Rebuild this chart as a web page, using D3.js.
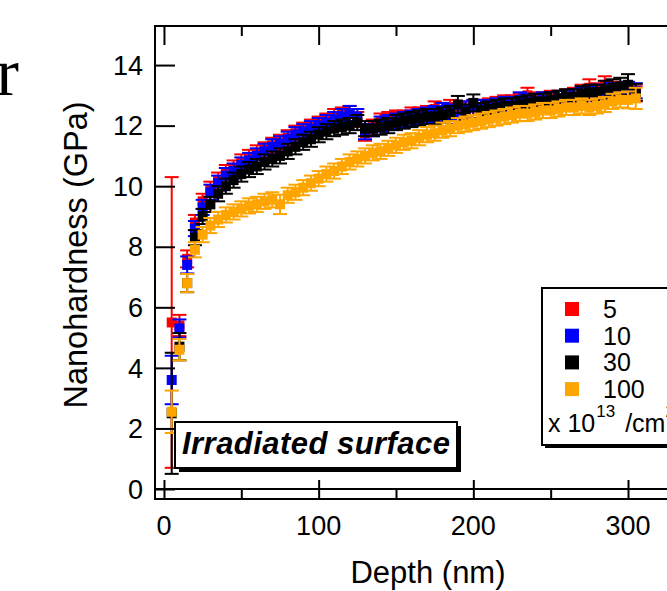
<!DOCTYPE html>
<html><head><meta charset="utf-8">
<script src="https://cdn.jsdelivr.net/npm/d3@7/dist/d3.min.js"></script>
<style>html,body{margin:0;padding:0;background:#fff;overflow:hidden}</style>
</head><body>
<svg id="c" width="667" height="591"></svg>
<script>
const depth = [5,10,15,20,25,30,35,40,45,50,55,60,65,70,75,80,85,90,95,100,105,110,115,120,125,130,135,140,145,150,155,160,165,170,175,180,185,190,195,200,205,210,215,220,225,230,235,240,245,250,255,260,265,270,275,280,285,290,295,300,305];

const red = [5.5,5.4,7.6,8.8,9.5,9.9,10.2,10.45,10.6,10.8,10.95,11.1,11.2,11.35,11.45,11.6,11.75,11.85,11.95,12.05,12.15,12.3,12.35,12.4,12.2,11.75,11.95,12.15,12.2,12.25,12.25,12.35,12.35,12.4,12.55,12.5,12.6,12.5,12.55,12.6,12.6,12.65,12.7,12.75,12.75,12.8,13.0,12.85,12.85,12.9,12.9,12.95,13.0,13.1,13.25,13.15,13.35,13.2,13.15,13.1,13.05];
const redErr = [4.8,0.35,0.28,0.25,0.25,0.25,0.25,0.25,0.25,0.25,0.25,0.25,0.25,0.25,0.25,0.25,0.25,0.25,0.25,0.25,0.25,0.25,0.25,0.25,0.25,0.25,0.25,0.25,0.25,0.25,0.25,0.25,0.25,0.25,0.25,0.25,0.25,0.25,0.25,0.25,0.25,0.25,0.25,0.25,0.25,0.25,0.25,0.25,0.25,0.25,0.25,0.25,0.25,0.25,0.28,0.25,0.28,0.25,0.25,0.25,0.25];

const blue = [3.6,5.3,7.4,8.6,9.3,9.8,10.1,10.35,10.5,10.7,10.85,11.0,11.15,11.3,11.4,11.55,11.7,11.8,11.9,12.0,12.1,12.2,12.3,12.4,12.3,11.8,11.9,12.05,12.1,12.15,12.2,12.25,12.3,12.35,12.4,12.5,12.45,12.3,12.55,12.6,12.6,12.6,12.65,12.7,12.7,12.85,12.8,12.8,12.85,12.85,12.9,12.9,12.95,13.0,13.05,13.1,13.1,13.15,13.15,13.2,13.15];
const blueErr = [0.8,0.3,0.28,0.25,0.25,0.25,0.25,0.25,0.25,0.25,0.25,0.25,0.25,0.25,0.25,0.25,0.25,0.25,0.25,0.25,0.25,0.25,0.25,0.25,0.25,0.25,0.25,0.25,0.25,0.25,0.25,0.25,0.25,0.25,0.25,0.25,0.25,0.25,0.25,0.25,0.25,0.25,0.25,0.25,0.25,0.25,0.25,0.25,0.25,0.25,0.25,0.25,0.25,0.25,0.25,0.25,0.25,0.25,0.25,0.25,0.25];

const black = [2.5,4.7,6.8,8.3,9.0,9.4,9.75,10.0,10.2,10.4,10.55,10.65,10.8,10.9,11.0,11.15,11.3,11.45,11.55,11.7,11.8,11.9,11.95,12.0,12.1,11.9,11.9,11.95,12.0,12.1,12.15,12.2,12.25,12.3,12.3,12.35,12.4,12.7,12.45,12.75,12.5,12.55,12.6,12.65,12.65,12.7,12.75,12.8,12.8,12.85,12.9,12.95,12.95,13.05,13.1,13.1,13.2,13.25,13.3,13.35,13.1];
const blackErr = [2.0,0.45,0.3,0.25,0.25,0.25,0.25,0.25,0.25,0.25,0.25,0.25,0.25,0.25,0.25,0.25,0.25,0.25,0.25,0.25,0.25,0.25,0.25,0.25,0.25,0.25,0.25,0.25,0.25,0.25,0.25,0.25,0.25,0.25,0.25,0.25,0.25,0.28,0.25,0.28,0.25,0.25,0.25,0.25,0.25,0.25,0.25,0.25,0.25,0.25,0.25,0.25,0.25,0.25,0.25,0.25,0.28,0.28,0.28,0.35,0.28];

const orange = [2.55,4.6,6.8,7.9,8.4,8.7,8.9,9.05,9.15,9.25,9.35,9.4,9.5,9.55,9.4,9.7,9.8,9.95,10.1,10.25,10.4,10.5,10.65,10.8,10.9,11.0,11.1,11.15,11.25,11.35,11.45,11.5,11.6,11.7,11.75,11.85,11.9,12.0,12.05,12.1,12.15,12.2,12.25,12.3,12.35,12.4,12.4,12.45,12.5,12.5,12.55,12.6,12.6,12.65,12.6,12.65,12.7,12.8,12.85,12.85,12.9];
const orangeErr = [0.7,0.35,0.3,0.25,0.25,0.25,0.25,0.25,0.25,0.25,0.25,0.25,0.25,0.25,0.32,0.25,0.25,0.25,0.25,0.25,0.25,0.25,0.25,0.25,0.25,0.25,0.25,0.25,0.25,0.25,0.25,0.25,0.25,0.25,0.25,0.25,0.25,0.25,0.25,0.25,0.25,0.25,0.25,0.25,0.25,0.25,0.25,0.25,0.25,0.25,0.25,0.25,0.25,0.25,0.25,0.25,0.25,0.25,0.25,0.28,0.35];

const seriesNames = ["5","10","30","100"];
const seriesColors = ["#ff0000","#0000ff","#000000","#ffa500"];
const xTicks = [0,100,200,300];
const xMinor = [50,150,250];
const yTicks = [0,2,4,6,8,10,12,14];

const series = [
  {name: seriesNames[0], color: seriesColors[0], v: red, e: redErr},
  {name: seriesNames[1], color: seriesColors[1], v: blue, e: blueErr},
  {name: seriesNames[2], color: seriesColors[2], v: black, e: blackErr},
  {name: seriesNames[3], color: seriesColors[3], v: orange, e: orangeErr}
];

const svg = d3.select("#c");
const FONT = "'Liberation Sans', Arial, Helvetica, sans-serif";

const x = d3.scaleLinear().domain([-5.8, 334]).range([155, 680.6]);
const y = d3.scaleLinear().domain([-0.33, 15.29]).range([499, 26]);

// big serif letter fragment at top-left
svg.append("text").attr("x", 19).attr("y", 95).attr("text-anchor", "end")
  .attr("font-family", "'Liberation Serif','DejaVu Serif',serif").attr("font-size", 68).text("r");

// data
const g = svg.append("g");
series.forEach(s => {
  const gs = g.append("g").attr("stroke", s.color).attr("fill", s.color);
  depth.forEach((d, i) => {
    const cx = x(d), v = s.v[i], e = s.e[i];
    const top = y(Math.min(v + e, 15.29)), bot = y(Math.max(v - e, -0.33));
    gs.append("line").attr("x1", cx).attr("x2", cx).attr("y1", top).attr("y2", bot).attr("stroke-width", 2);
    gs.append("line").attr("x1", cx - 7).attr("x2", cx + 7).attr("y1", top).attr("y2", top).attr("stroke-width", 2);
    gs.append("line").attr("x1", cx - 7).attr("x2", cx + 7).attr("y1", bot).attr("y2", bot).attr("stroke-width", 2);
    gs.append("rect").attr("x", cx - 5).attr("y", y(v) - 5).attr("width", 10).attr("height", 10).attr("stroke", "none");
  });
});

// frame
const fr = svg.append("g").attr("stroke", "#000").attr("stroke-width", 2).attr("fill", "none");
fr.append("line").attr("x1", 155).attr("x2", 700).attr("y1", 26).attr("y2", 26);
fr.append("line").attr("x1", 155).attr("x2", 155).attr("y1", 25).attr("y2", 500);
fr.append("line").attr("x1", 154).attr("x2", 700).attr("y1", 499).attr("y2", 499);
fr.append("line").attr("x1", 155).attr("x2", 700).attr("y1", y(0)).attr("y2", y(0));

// y axis ticks (inward)
const ya = svg.append("g").attr("transform", "translate(155,0)")
  .call(d3.axisRight(y).tickValues(yTicks).tickSize(20).tickFormat(""));
ya.select(".domain").remove();
yTicks.forEach(t => {
  svg.append("text").attr("x", 143).attr("y", y(t)).attr("dy", "0.36em").attr("text-anchor", "end")
    .attr("font-family", FONT).attr("font-size", 27).text(t);
});

// x ticks bottom (inward, upward) and top (downward)
const xb = svg.append("g").attr("transform", "translate(0,499)")
  .call(d3.axisTop(x).tickValues(xTicks).tickSize(19).tickFormat(""));
xb.select(".domain").remove();
const xbm = svg.append("g").attr("transform", "translate(0,499)")
  .call(d3.axisTop(x).tickValues(xMinor).tickSize(10).tickFormat(""));
xbm.select(".domain").remove();
const xt = svg.append("g").attr("transform", "translate(0,26)")
  .call(d3.axisBottom(x).tickValues(xTicks).tickSize(19).tickFormat(""));
xt.select(".domain").remove();
const xtm = svg.append("g").attr("transform", "translate(0,26)")
  .call(d3.axisBottom(x).tickValues(xMinor).tickSize(10).tickFormat(""));
xtm.select(".domain").remove();
svg.selectAll(".tick line").attr("stroke-width", 2).attr("stroke", "#000");
xTicks.forEach(t => {
  svg.append("text").attr("x", x(t)).attr("y", 535).attr("text-anchor", "middle")
    .attr("font-family", FONT).attr("font-size", 27).text(t);
});

// axis titles
svg.append("text").attr("x", 428).attr("y", 583).attr("text-anchor", "middle")
  .attr("font-family", FONT).attr("font-size", 31).text("Depth (nm)");
svg.append("text").attr("transform", "translate(87,255) rotate(-90)").attr("text-anchor", "middle")
  .attr("font-family", FONT).attr("font-size", 32.5).text("Nanohardness (GPa)");

// Irradiated surface box
svg.append("rect").attr("x", 179).attr("y", 426).attr("width", 282).attr("height", 46).attr("fill", "#000");
svg.append("rect").attr("x", 175).attr("y", 422).attr("width", 282).attr("height", 46)
  .attr("fill", "#fff").attr("stroke", "#000").attr("stroke-width", 2);
svg.append("text").attr("x", 316).attr("y", 454).attr("text-anchor", "middle")
  .attr("font-family", FONT).attr("font-weight", "bold").attr("font-style", "italic")
  .attr("font-size", 31).attr("textLength", 268).text("Irradiated surface");

// legend
svg.append("rect").attr("x", 545).attr("y", 291).attr("width", 160).attr("height", 157).attr("fill", "#000");
svg.append("rect").attr("x", 542).attr("y", 288).attr("width", 160).attr("height", 157)
  .attr("fill", "#fff").attr("stroke", "#000").attr("stroke-width", 2);
series.forEach((s, i) => {
  const cy = 309 + i * 26.7;
  svg.append("rect").attr("x", 565).attr("y", cy - 7).attr("width", 14).attr("height", 14).attr("fill", s.color);
  svg.append("text").attr("x", 603).attr("y", cy + 9).attr("font-family", FONT).attr("font-size", 25).text(s.name);
});
const lt = svg.append("text").attr("x", 548).attr("y", 432).attr("font-family", FONT).attr("font-size", 25);
lt.append("tspan").text("x 10");
lt.append("tspan").attr("font-size", 17).attr("dy", -15).attr("dx", 1).text("13");
lt.append("tspan").attr("dy", 15).attr("dx", 3).text(" /cm");
lt.append("tspan").attr("font-size", 17).attr("dy", -15).text("2");
</script>
</body></html>
